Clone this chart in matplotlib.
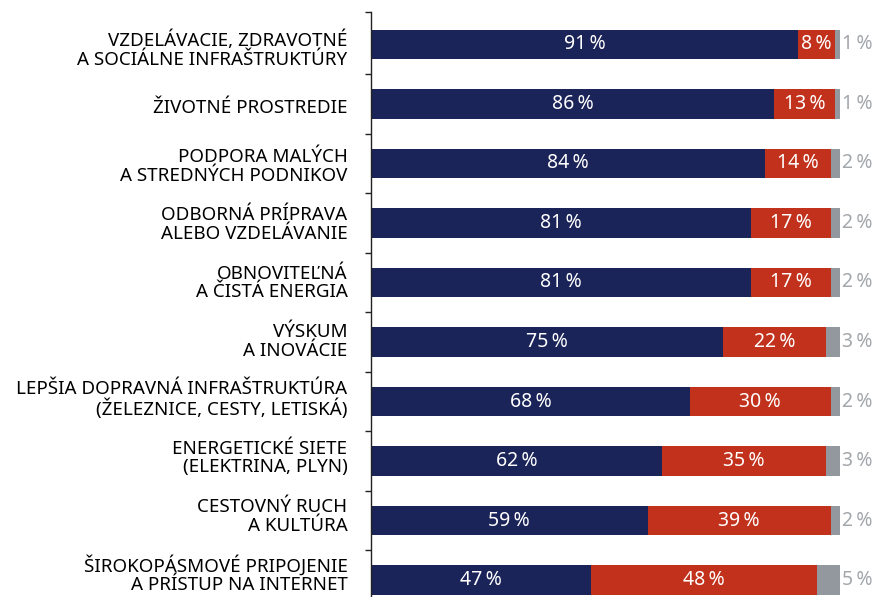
import matplotlib.pyplot as plt
import numpy as np

# data
kategorie = [
    "VZDELÁVACIE, ZDRAVOTNÉ\nA SOCIÁLNE INFRAŠTRUKTÚRY",
    "ŽIVOTNÉ PROSTREDIE",
    "PODPORA MALÝCH\nA STREDNÝCH PODNIKOV",
    "ODBORNÁ PRÍPRAVA\nALEBO VZDELÁVANIE",
    "OBNOVITEĽNÁ\nA ČISTÁ ENERGIA",
    "VÝSKUM\nA INOVÁCIE",
    "LEPŠIA DOPRAVNÁ INFRAŠTRUKTÚRA\n(ŽELEZNICE, CESTY, LETISKÁ)",
    "ENERGETICKÉ SIETE\n(ELEKTRINA, PLYN)",
    "CESTOVNÝ RUCH\nA KULTÚRA",
    "ŠIROKOPÁSMOVÉ PRIPOJENIE\nA PRÍSTUP NA INTERNET",
]
ano = [91, 86, 84, 81, 81, 75, 68, 62, 59, 47]
nie = [8, 13, 14, 17, 17, 22, 30, 35, 39, 48]
nevie = [1, 1, 2, 2, 2, 3, 2, 3, 2, 5]

c_navy = '#1b2458'
c_red = '#c1311b'
c_gray = '#93989e'
c_gtext = '#a3a7ab'

plt.rcParams['font.family'] = ['Noto Sans', 'DejaVu Sans']

W, H = 887, 597
fig = plt.figure(figsize=(W / 100, H / 100), dpi=100)
# osi v pixeloch: x 371..840, y 12..597
ax = fig.add_axes([371 / W, 0, (840 - 371) / W, (597 - 12) / H])

y = np.arange(len(kategorie))
h = 0.49
ano = np.array(ano)
nie = np.array(nie)
nevie = np.array(nevie)

ax.barh(y, ano, height=h, color=c_navy)
ax.barh(y, nie, left=ano, height=h, color=c_red)
ax.barh(y, nevie, left=ano + nie, height=h, color=c_gray)

fs = 13.5
fv = 14
for i in range(len(y)):
    ax.text(ano[i] / 2, y[i], f"{ano[i]}\u2009%", color='white', ha='center', va='center', fontsize=fv)
    ax.text(ano[i] + nie[i] / 2, y[i], f"{nie[i]}\u2009%", color='white', ha='center', va='center', fontsize=fv)
    ax.text(ano[i] + nie[i] + nevie[i] + 0.5, y[i], f"{nevie[i]}\u2009%", color=c_gtext, ha='left', va='center', fontsize=fv)

top = -0.545
ax.set_xlim(0, 100)
ax.set_ylim(9.285, top)

# popisky su trochu hustejsie nez pruhy
ax.set_yticks(y * 0.98 + 0.05)
ax.set_yticklabels(kategorie, fontsize=fs, linespacing=1.05)
ax.tick_params(axis='y', which='major', length=0, pad=17)
ax.set_yticks([top] + list(np.arange(0.5, 9.5, 1)), minor=True)
ax.tick_params(axis='y', which='minor', length=4, width=1, color='#222222')
ax.set_xticks([])

for s in ['top', 'right', 'bottom']:
    ax.spines[s].set_visible(False)
ax.spines['left'].set_color('#222222')
ax.spines['left'].set_linewidth(1)

fig.savefig('out.png', dpi=100)
